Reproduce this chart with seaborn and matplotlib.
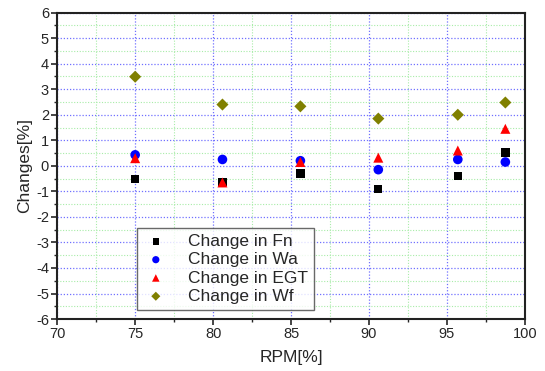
import matplotlib
matplotlib.use("Agg")
import matplotlib.pyplot as plt
import seaborn as sns
import pandas as pd
from matplotlib.ticker import MultipleLocator

rpm = [75.0, 80.6, 85.6, 90.6, 95.7, 98.75]
fn = [-0.52, -0.64, -0.30, -0.91, -0.40, 0.52]
wa = [0.43, 0.25, 0.20, -0.15, 0.25, 0.15]
egt = [0.30, -0.65, 0.15, 0.32, 0.60, 1.45]
wf = [3.49, 2.40, 2.33, 1.85, 2.00, 2.48]

series_names = ["Change in Fn", "Change in Wa", "Change in EGT", "Change in Wf"]
series_vals = [fn, wa, egt, wf]

rows = []
for name, vals in zip(series_names, series_vals):
    for x, y in zip(rpm, vals):
        rows.append({"RPM": x, "Change": y, "Series": name})
df = pd.DataFrame(rows)

sns.set_theme(style="white")
plt.rcParams['font.family'] = ['Liberation Sans', 'DejaVu Sans']
plt.rcParams['axes.unicode_minus'] = False

fig = plt.figure(figsize=(5.45, 3.71), dpi=100)
ax = fig.add_axes([0.105, 0.14, 0.858, 0.826])

palette = {"Change in Fn": "black", "Change in Wa": "#0000ff",
           "Change in EGT": "#ff0000", "Change in Wf": "#808000"}
markers = {"Change in Fn": "s", "Change in Wa": "o",
           "Change in EGT": "^", "Change in Wf": "D"}
sizes = {"Change in Fn": 36, "Change in Wa": 48, "Change in EGT": 52, "Change in Wf": 38}

for name in series_names:
    sub = df[df["Series"] == name]
    sns.scatterplot(data=sub, x="RPM", y="Change", color=palette[name],
                    marker=markers[name], s=sizes[name], edgecolor="none",
                    label=name, ax=ax, zorder=3)

ax.set_xlim(70, 100)
ax.set_ylim(-6, 6)
ax.xaxis.set_major_locator(MultipleLocator(5))
ax.xaxis.set_minor_locator(MultipleLocator(2.5))
ax.yaxis.set_major_locator(MultipleLocator(1))
ax.yaxis.set_minor_locator(MultipleLocator(0.5))

ax.grid(which="major", color="#7070ff", linestyle=(0, (1, 1.5)), linewidth=0.9)
ax.grid(which="minor", color="#a8eca8", linestyle=(0, (1, 1.5)), linewidth=0.8)
ax.set_axisbelow(True)

for s in ax.spines.values():
    s.set_linewidth(1.5)
    s.set_color("#222222")

ax.tick_params(which="major", direction="out", length=4, width=1.2,
               bottom=True, left=True, top=False, right=False, labelsize=10.5, pad=2)
ax.tick_params(which="minor", direction="out", length=2.5, width=1.0,
               bottom=True, left=True, top=False, right=False)

ax.set_xlabel("RPM[%]", fontsize=12.5, labelpad=6)
ax.set_ylabel("Changes[%]", fontsize=12.5, labelpad=3)

leg = ax.legend(loc="lower left", bbox_to_anchor=(0.17, 0.03), fontsize=12.5,
                frameon=True, fancybox=False, edgecolor="#444444",
                borderpad=0.35, labelspacing=0.18, handletextpad=1.1,
                handlelength=1.5, borderaxespad=0, markerscale=0.75)
leg.get_frame().set_linewidth(1.0)

fig.savefig("out.png", dpi=100)
